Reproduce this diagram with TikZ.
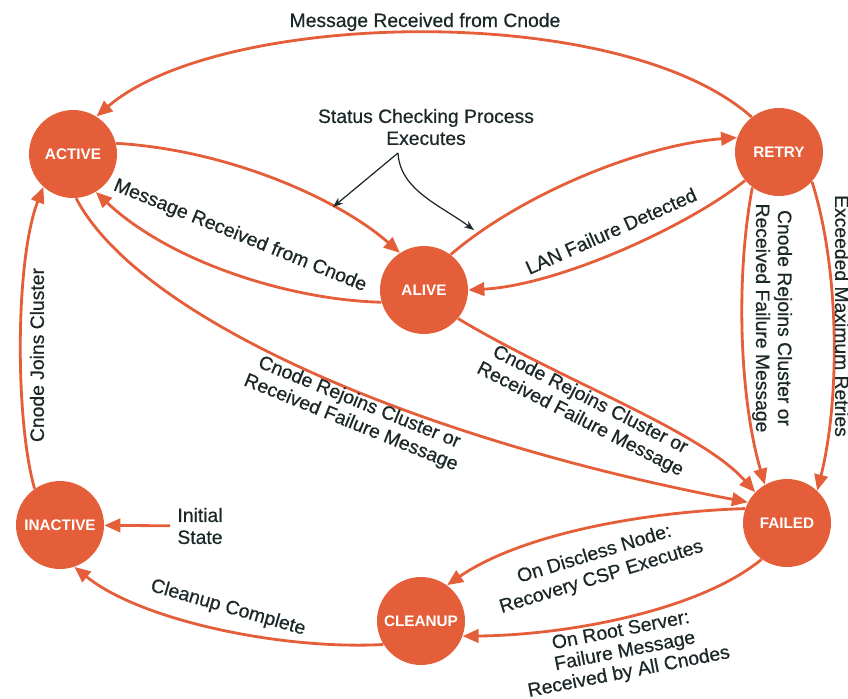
\documentclass[tikz,border=0pt]{standalone}
\usepackage{fontspec}
\setmainfont{Liberation Sans}
\newfontfamily\labfont{Liberation Sans}[FakeBold=0.6]
\usetikzlibrary{arrows.meta}
\definecolor{hporange}{RGB}{229,94,58}
\definecolor{ink}{RGB}{28,40,40}
\begin{document}
\begin{tikzpicture}[x=0.02cm, y=-0.02cm,
  state/.style={circle, fill=hporange, minimum size=1.76cm, inner sep=0pt, text=white, font=\fontsize{8.7}{10}\selectfont\bfseries},
  edge/.style={color=hporange, line width=1.6pt, -{Triangle[length=0.32cm, width=0.27cm]}},
  lab/.style={text=ink, font=\labfont\fontsize{11}{12.5}\selectfont, align=center, inner sep=0pt},
  pointer/.style={color=ink, line width=0.7pt, -{Stealth[length=0.2cm, width=0.15cm]}}]
\useasboundingbox (0,0) rectangle (848,698);
\node[state] (active) at (73,154){ACTIVE};
\node[state] (alive) at (424,290){ALIVE};
\node[state] (retry) at (779,152){RETRY};
\node[state] (failed) at (787,523){FAILED};
\node[state] (inactive) at (60,525){INACTIVE};
\node[state] (cleanup) at (421,621){CLEANUP};
\draw[edge] (retry.128) .. controls (620,0) and (220,10) .. (active.58);
\draw[edge] (active.14) .. controls (230,150) and (340,200) .. (alive.123);
\draw[edge] (alive.196) .. controls (290,300) and (170,262) .. (active.-59);
\draw[edge] (alive.53) .. controls (520,195) and (640,145) .. (retry.161);
\draw[edge] (retry.220) .. controls (690,225) and (560,285) .. (alive.0);
\draw[edge] (active.-86) .. controls (140,320) and (420,440) .. (failed.152);
\draw[edge] (alive.-40) .. controls (560,380) and (700,430) .. (failed.136);
\draw[edge] (retry.-127) .. controls (735,280) and (740,400) .. (failed.120);
\draw[edge] (retry.-42) .. controls (840,270) and (840,400) .. (failed.47);
\draw[edge] (failed.161) .. controls (640,512) and (520,535) .. (cleanup.54);
\draw[edge] (failed.-125) .. controls (700,610) and (570,635) .. (cleanup.-20);
\draw[edge] (cleanup.212) .. controls (280,650) and (140,620) .. (inactive.-71);
\draw[edge] (inactive.125) .. controls (15,420) and (15,260) .. (active.228);
\node[lab, align=left, inner xsep=4pt] (init) at (200,526){Initial\\State};
\draw[edge] (init) -- (inactive);
\node[lab] (status) at (426,127){Status Checking Process\\Executes};
\coordinate (split) at (398,153);
\coordinate (tipl) at (333,207);
\coordinate (tipr) at (474,230);
\draw[pointer] (split) -- (tipl);
\draw[pointer] (split) .. controls (400,190) and (440,205) .. (tipr);
\node[lab] (l0) at (425,22){Message Received from Cnode};
\node[lab, rotate=-22] (l1) at (240,236){Message Received from Cnode};
\node[lab, rotate=24] (l2) at (611,231){LAN Failure Detected};
\node[lab, rotate=-22] (l3) at (355,413){Cnode Rejoins Cluster or\\Received Failure Message};
\node[lab, rotate=-27] (l4) at (585,410){Cnode Rejoins Cluster or\\Received Failure Message};
\node[lab, rotate=-90] (l5) at (772,318){Cnode Rejoins Cluster or\\Received Failure Message};
\node[lab, rotate=-90] (l6) at (842,316){Exceeded Maximum Retries};
\node[lab, rotate=17, font=\labfont\fontsize{11}{13.5}\selectfont] (l7) at (598,566){On Discless Node:\\Recovery CSP Executes};
\node[lab, rotate=11, font=\labfont\fontsize{11}{12}\selectfont] (l8) at (625,652){On Root Server:\\Failure Message\\Received by All Cnodes};
\node[lab, rotate=-16] (l9) at (228,608){Cleanup Complete};
\node[lab, rotate=90] (l10) at (37,355){Cnode Joins Cluster};
\end{tikzpicture}
\end{document}
